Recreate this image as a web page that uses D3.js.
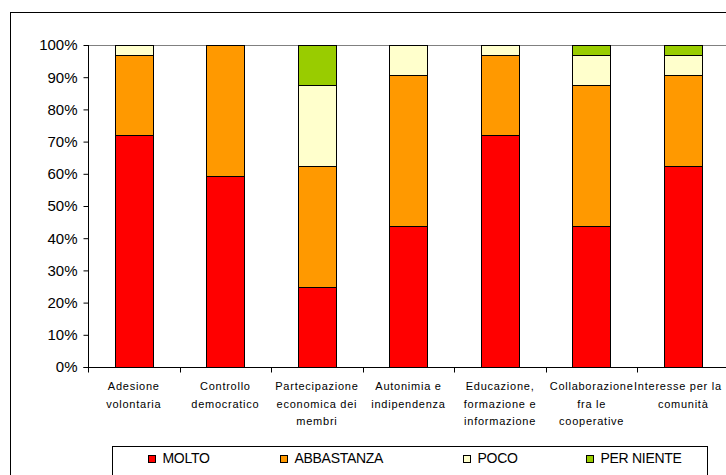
<!DOCTYPE html>
<html>
<head>
<meta charset="utf-8">
<script src="https://cdn.jsdelivr.net/npm/d3@7"></script>
<style>
  html, body { margin: 0; padding: 0; background: #fff; }
  svg { display: block; }
  text { font-family: "Liberation Sans", Arial, sans-serif; fill: #000; }
</style>
</head>
<body>
<svg id="chart" width="726" height="475"></svg>
<script>
// ---- data ----
const categories = [
  ["Adesione", "volontaria"],
  ["Controllo", "democratico"],
  ["Partecipazione", "economica dei", "membri"],
  ["Autonimia e", "indipendenza"],
  ["Educazione,", "formazione e", "informazione"],
  ["Collaborazione", "fra le", "cooperative"],
  ["Interesse per la", "comunità"]
];
const seriesNames = ["MOLTO", "ABBASTANZA", "POCO", "PER NIENTE"];
const molto      = [71.9, 59.4, 25.0, 43.8, 71.9, 43.8, 62.5];
const abbastanza = [25.0, 40.6, 37.5, 46.9, 25.0, 43.8, 28.1];
const poco       = [3.1, 0.0, 25.0, 9.4, 3.1, 9.4, 6.3];
const perNiente  = [0.0, 0.0, 12.5, 0.0, 0.0, 3.1, 3.1];
const yTicks = [0, 10, 20, 30, 40, 50, 60, 70, 80, 90, 100];
const colors = ["#FF0000", "#FF9900", "#FFFFCC", "#99CC00"];

// ---- layout ----
const svg = d3.select("#chart");
const pLeft = 88, pRight = 729, pTop = 45, pBottom = 367;

const rows = categories.map((c, i) => ({
  key: i,
  MOLTO: molto[i], ABBASTANZA: abbastanza[i], POCO: poco[i], "PER NIENTE": perNiente[i]
}));
const stack = d3.stack().keys(seriesNames).offset(d3.stackOffsetExpand);
const layers = stack(rows);

const xBand = d3.scaleBand().domain(d3.range(categories.length)).range([pLeft, pRight]);
const x = d3.scaleBand().domain(d3.range(categories.length)).range([pLeft, pRight])
  .paddingInner(0.58).paddingOuter(0.29);
const y = d3.scaleLinear().domain([0, 1]).range([pBottom, pTop]);

// outer frame
svg.append("rect").attr("x", 10.5).attr("y", 12.5).attr("width", 760).attr("height", 500)
  .attr("fill", "none").attr("stroke", "#000").attr("stroke-width", 1);

// top border of plot area
svg.append("line").attr("x1", pLeft).attr("x2", 726).attr("y1", pTop + 0.5).attr("y2", pTop + 0.5)
  .attr("stroke", "#808080").attr("stroke-width", 1);

// bars
layers.forEach((layer, si) => {
  svg.append("g").selectAll("rect")
    .data(layer.map((d, i) => ({ d, i })).filter(o => o.d[1] - o.d[0] > 1e-6))
    .join("rect")
    .attr("x", o => Math.round(x(o.i)) + 0.5)
    .attr("width", Math.round(x.bandwidth()))
    .attr("y", o => Math.round(y(o.d[1])) + 0.5)
    .attr("height", o => Math.round(y(o.d[0])) - Math.round(y(o.d[1])))
    .attr("fill", colors[si])
    .attr("stroke", "#000")
    .attr("stroke-width", 1);
});

// y axis
const yAxis = d3.axisLeft(y.copy().domain([0, 100]))
  .tickValues(yTicks).tickSize(5).tickPadding(6).tickFormat(d => d + "%");
const gy = svg.append("g").attr("transform", `translate(${pLeft + 0.5},0)`).call(yAxis);
gy.select(".domain").attr("stroke", "#000").attr("d", `M-5,${pBottom + 0.5}H0V${pTop}`);
gy.selectAll(".tick line").attr("stroke", "#000");
gy.selectAll(".tick text").attr("font-size", "15px").attr("fill", "#000")
  .attr("font-family", "'Liberation Sans', Arial, sans-serif");

// x axis
const gx = svg.append("g").attr("transform", `translate(0,${pBottom + 0.5})`);
gx.append("line").attr("x1", pLeft).attr("x2", 726).attr("y1", 0).attr("y2", 0).attr("stroke", "#000");
const boundaries = d3.range(categories.length + 1).map(i => xBand.range()[0] + i * xBand.step());
gx.selectAll("line.tk").data(boundaries).join("line").attr("class", "tk")
  .attr("x1", d => Math.round(d) + 0.5).attr("x2", d => Math.round(d) + 0.5)
  .attr("y1", 0).attr("y2", 5).attr("stroke", "#000");

// category labels
const lab = svg.append("g");
categories.forEach((lines, i) => {
  const cx = xBand(i) + xBand.bandwidth() / 2;
  lines.forEach((ln, j) => {
    const t = lab.append("text").attr("text-anchor", "middle")
      .attr("font-size", "11px").attr("letter-spacing", "0.75px")
      .attr("x", cx).attr("y", 390 + j * 17.5).text(ln);
    const bb = t.node().getBBox();
    const overflow = bb.x + bb.width - 722;
    if (overflow > 0) t.attr("x", cx - overflow);
  });
});

// legend
svg.append("rect").attr("x", 112.5).attr("y", 446.5).attr("width", 595).attr("height", 40)
  .attr("fill", "#fff").attr("stroke", "#000").attr("stroke-width", 1);
const legendX = [148, 280, 463, 586];
const lg = svg.append("g");
seriesNames.forEach((name, i) => {
  lg.append("rect").attr("x", legendX[i] + 0.5).attr("y", 455.5).attr("width", 7).attr("height", 7)
    .attr("fill", colors[i]).attr("stroke", "#000").attr("stroke-width", 1);
  lg.append("text").attr("x", legendX[i] + 14.5).attr("y", 462.5)
    .attr("font-size", "14px").attr("letter-spacing", "-0.3px").text(name);
});
</script>
</body>
</html>
